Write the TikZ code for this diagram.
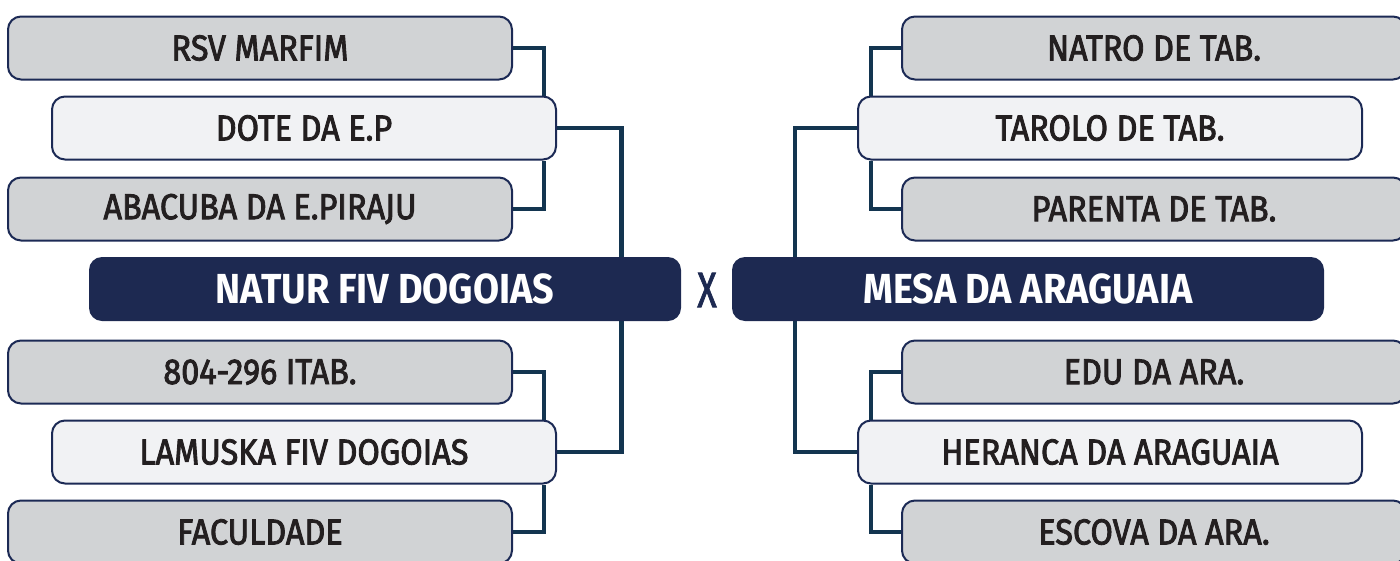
\documentclass[tikz,border=0pt]{standalone}
\usepackage{fontspec}
\setmainfont{Fira Sans}
\newfontfamily\memberfont{Fira Sans}[FakeStretch=0.90,FakeBold=2.4]
\newfontfamily\headfont{Fira Sans}[FakeStretch=0.90,BoldFont={* Bold}]
\newfontfamily\vsfont{Fira Sans}[FakeStretch=0.72,FakeBold=1.5]
\usetikzlibrary{backgrounds}
\usetikzlibrary{calc}

\definecolor{boxgray}{HTML}{D1D3D5}
\definecolor{boxlight}{HTML}{F1F2F4}
\definecolor{boxline}{HTML}{1C2A55}
\definecolor{headfill}{HTML}{1D2951}
\definecolor{linkcol}{HTML}{133550}
\definecolor{textcol}{HTML}{231F20}

\tikzset{
    member/.style={draw=boxline, line width=2pt, rounded corners=13pt,
        minimum width=504pt, minimum height=63pt, inner sep=0pt,
        text=textcol, font=\memberfont\fontsize{36}{36}\selectfont},
    outer/.style={member, fill=boxgray},
    inner/.style={member, fill=boxlight},
    head/.style={fill=headfill, rounded corners=13pt,
        minimum width=592pt, minimum height=64pt, inner sep=0pt,
        text=white, font=\headfont\bfseries\fontsize{42}{42}\selectfont},
    link/.style={draw=linkcol, line width=4.6pt, line join=miter},
}

\begin{document}
\begin{tikzpicture}[x=1pt, y=-1pt]
    \useasboundingbox (0,0) rectangle (1400,560);

    % left bracket
    \node[outer] (rsv)   at (260,48)  {RSV MARFIM};
    \node[inner] (dote)  at (304,128) {DOTE DA E.P};
    \node[outer] (abac)  at (260,209) {ABACUBA DA E.PIRAJU};
    \node[head]  (natur) at (385,289) {NATUR FIV DOGOIAS};
    \node[outer] (itab)  at (260,372) {804-296 ITAB.};
    \node[inner] (lamu)  at (304,452) {LAMUSKA FIV DOGOIAS};
    \node[outer] (facu)  at (260,532) {FACULDADE};

    \node[text=headfill, inner sep=0pt, font=\vsfont\fontsize{50}{50}\selectfont] (vs) at (707,290) {X};

    % right bracket
    \node[outer] (natro) at (1154,48)  {NATRO DE TAB.};
    \node[inner] (taro)  at (1110,128) {TAROLO DE TAB.};
    \node[outer] (pare)  at (1154,209) {PARENTA DE TAB.};
    \node[head]  (mesa)  at (1028,289) {MESA DA ARAGUAIA};
    \node[outer] (edu)   at (1154,372) {EDU DA ARA.};
    \node[inner] (hera)  at (1110,452) {HERANCA DA ARAGUAIA};
    \node[outer] (esco)  at (1154,532) {ESCOVA DA ARA.};

    \begin{scope}[on background layer]
        \draw[link] (rsv.east)  -| ([xshift=-13pt]dote.north east);
        \draw[link] (abac.east) -| ([xshift=-13pt]dote.south east);
        \draw[link] (itab.east) -| ([xshift=-13pt]lamu.north east);
        \draw[link] (facu.east) -| ([xshift=-13pt]lamu.south east);
        \draw[link] (dote.east) -| ([xshift=-60pt]natur.north east);
        \draw[link] (lamu.east) -| ([xshift=-60pt]natur.south east);

        \draw[link] (natro.west) -| ([xshift=14pt]taro.north west);
        \draw[link] (pare.west)  -| ([xshift=14pt]taro.south west);
        \draw[link] (edu.west)   -| ([xshift=14pt]hera.north west);
        \draw[link] (esco.west)  -| ([xshift=14pt]hera.south west);
        \draw[link] (taro.west)  -| ([xshift=63pt]mesa.north west);
        \draw[link] (hera.west)  -| ([xshift=63pt]mesa.south west);
    \end{scope}
\end{tikzpicture}
\end{document}
